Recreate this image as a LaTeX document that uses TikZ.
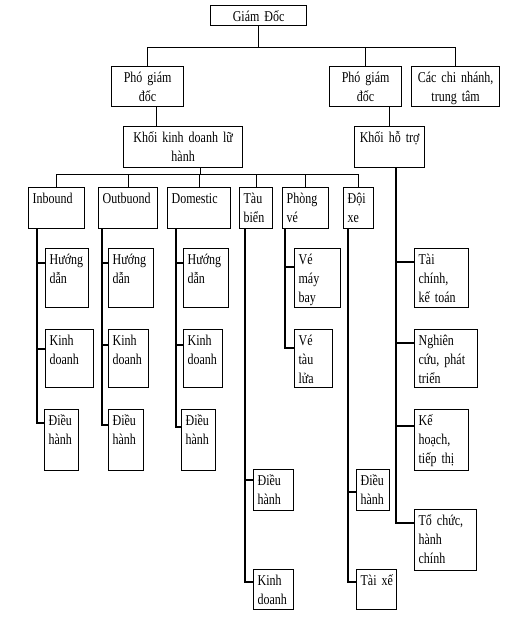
\documentclass[tikz,border=0pt]{standalone}
\usepackage{fontspec}
\setmainfont{Liberation Serif}[FakeStretch=0.8,WordSpace=0.8]
\begin{document}
\begin{tikzpicture}[x=1pt,y=-1pt,line width=1.2pt,
	box/.style={draw,anchor=north west,inner xsep=4pt,inner ysep=3pt,text height=13pt,font=\fontsize{15}{19}\selectfont},
	head/.style={box,align=center},
	unit/.style={box,align=left}]
	\useasboundingbox (0,0) rectangle (529,623);
	% cap tren
	\node[head,text width=88pt,text depth=1pt] (gd) at (210,5) {Giám Đốc};
	\node[head,text width=64pt,text depth=21pt] (pgd1) at (111,66) {Phó giám\\đốc};
	\node[head,text width=64pt,text depth=21pt] (pgd2) at (329,66) {Phó giám\\đốc};
	\node[head,text width=80pt,text depth=21pt] (cn) at (411,66) {Các chi nhánh,\\trung tâm};
	\node[head,text width=111pt,text depth=22pt] (kd) at (123,126) {Khối kinh doanh lữ\\hành};
	\node[head,text width=62pt,text depth=22pt] (ht) at (354,126) {Khối hỗ trợ};
	% cac bo phan
	\node[unit,text width=48pt,text depth=22pt] (ib) at (28,187) {Inbound};
	\node[unit,text width=51pt,text depth=22pt] (ob) at (98,187) {Outbuond};
	\node[unit,text width=55pt,text depth=22pt] (dm) at (167,187) {Domestic};
	\node[unit,text width=25pt,text depth=22pt] (tb) at (239,187) {Tàu\\biển};
	\node[unit,text width=38pt,text depth=22pt] (pv) at (282,187) {Phòng\\vé};
	\node[unit,text width=22pt,text depth=22pt] (dx) at (343,187) {Đội\\xe};
	% inbound
	\node[unit,text width=35pt,text depth=40pt] (hd1) at (45,248) {Hướng\\dẫn};
	\node[unit,text width=40pt,text depth=39pt] (kd1) at (45,329) {Kinh\\doanh};
	\node[unit,text width=26pt,text depth=42pt] (dh1) at (44,409) {Điều\\hành};
	% outbuond
	\node[unit,text width=37pt,text depth=40pt] (hd2) at (108,248) {Hướng\\dẫn};
	\node[unit,text width=32pt,text depth=39pt] (kd2) at (108,329) {Kinh\\doanh};
	\node[unit,text width=27pt,text depth=42pt] (dh2) at (108,409) {Điều\\hành};
	% domestic
	\node[unit,text width=37pt,text depth=40pt] (hd3) at (183,248) {Hướng\\dẫn};
	\node[unit,text width=31pt,text depth=39pt] (kd3) at (183,329) {Kinh\\doanh};
	\node[unit,text width=26pt,text depth=42pt] (dh3) at (181,409) {Điều\\hành};
	% tau bien
	\node[unit,text width=32pt,text depth=22pt] (dh4) at (253,469) {Điều\\hành};
	\node[unit,text width=32pt,text depth=21pt] (kd4) at (253,569) {Kinh\\doanh};
	% phong ve
	\node[unit,text width=38pt,text depth=40pt] (vmb) at (294,248) {Vé\\máy\\bay};
	\node[unit,text width=30pt,text depth=39pt] (vtl) at (294,329) {Vé\\tàu\\lửa};
	% doi xe
	\node[unit,text width=25pt,text depth=22pt] (dh5) at (356,469) {Điều\\hành};
	\node[unit,text width=32pt,text depth=21pt] (tx) at (356,569) {Tài~xế};
	% khoi ho tro
	\node[unit,text width=46pt,text depth=40pt] (tc) at (414,248) {Tài\\chính,\\kế toán};
	\node[unit,text width=55pt,text depth=39pt] (nc) at (414,329) {Nghiên\\cứu, phát\\triển};
	\node[unit,text width=46pt,text depth=42pt] (kh) at (414,409) {Kế\\hoạch,\\tiếp thị};
	\node[unit,text width=54pt,text depth=42pt] (tch) at (414,509) {Tổ chức,\\hành\\chính};
	% duong noi
	\draw (gd.south) -- ++(0,21) coordinate (b0);
	\draw (b0) -| (pgd1.north);
	\draw (b0) -| (pgd2.north);
	\draw (b0) -| (cn.north);
	\draw ([xshift=9pt]pgd1.south) -- ([xshift=9pt]pgd1.south |- kd.north);
	\draw (ht.north |- pgd2.south) -- (ht.north);
	\draw ([xshift=17pt]kd.south) -- ++(0,6) coordinate (b1);
	\draw (b1) -| (ib.north);
	\draw (b1) -| (ob.north);
	\draw (b1) -| (dm.north);
	\draw (b1) -| (tb.north);
	\draw (b1) -| (pv.north);
	\draw (b1) -| (dx.north);
	\draw ([xshift=9pt]ib.south west) |- ([yshift=-15pt]hd1.north west);
	\draw ([xshift=9pt]ib.south west) |- ([yshift=-20pt]kd1.north west);
	\draw ([xshift=9pt]ib.south west) |- ([yshift=-14pt]dh1.north west);
	\draw ([xshift=4pt]ob.south west) |- ([yshift=-15pt]hd2.north west);
	\draw ([xshift=4pt]ob.south west) |- ([yshift=-16pt]kd2.north west);
	\draw ([xshift=4pt]ob.south west) |- ([yshift=-16pt]dh2.north west);
	\draw ([xshift=9pt]dm.south west) |- ([yshift=-15pt]hd3.north west);
	\draw ([xshift=9pt]dm.south west) |- ([yshift=-16pt]kd3.north west);
	\draw ([xshift=9pt]dm.south west) |- ([yshift=-18pt]dh3.north west);
	\draw ([xshift=6pt]tb.south west) |- ([yshift=-11pt]dh4.north west);
	\draw ([xshift=6pt]tb.south west) |- ([yshift=-13pt]kd4.north west);
	\draw ([xshift=3pt]pv.south west) |- ([yshift=-19pt]vmb.north west);
	\draw ([xshift=3pt]pv.south west) |- ([yshift=-19pt]vtl.north west);
	\draw ([xshift=5pt]dx.south west) |- ([yshift=-23pt]dh5.north west);
	\draw ([xshift=5pt]dx.south west) |- ([yshift=-13pt]tx.north west);
	\draw ([xshift=42pt]ht.south west) |- ([yshift=-14pt]tc.north west);
	\draw ([xshift=42pt]ht.south west) |- ([yshift=-14pt]nc.north west);
	\draw ([xshift=42pt]ht.south west) |- ([yshift=-17pt]kh.north west);
	\draw ([xshift=42pt]ht.south west) |- ([yshift=-14pt]tch.north west);
\end{tikzpicture}
\end{document}
